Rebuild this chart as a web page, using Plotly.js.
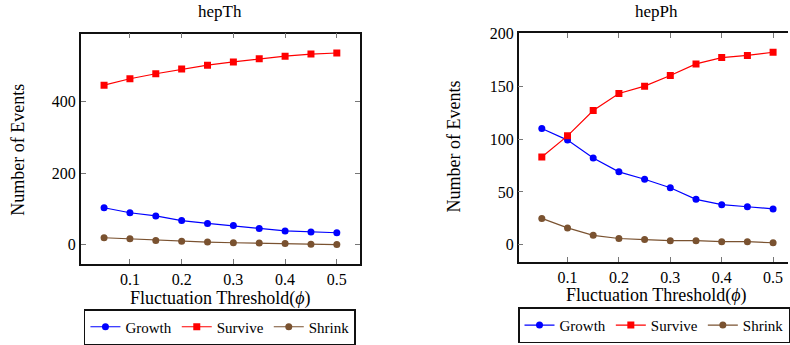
<!DOCTYPE html>
<html>
<head>
<meta charset="utf-8">
<script src="https://cdn.plot.ly/plotly-3.0.1.min.js"></script>
<style>
html,body{margin:0;padding:0;overflow:hidden;background:#fff;}
#chart{width:790px;height:345px;}
</style>
</head>
<body>
<div id="chart"></div>
<script>
const thresholds = [0.05, 0.1, 0.15, 0.2, 0.25, 0.3, 0.35, 0.4, 0.45, 0.5];

const hepThGrowth  = [103, 89, 80, 67, 59, 53, 45, 38, 35, 33];
const hepThSurvive = [446, 464, 478, 491, 502, 511, 520, 527, 533, 536];
const hepThShrink  = [19, 16, 11, 9, 7, 5, 4, 3, 1, 0];

const hepPhGrowth  = [110, 99, 82, 69, 62, 54, 43, 38, 36, 34];
const hepPhSurvive = [83, 103, 127, 143, 150, 160, 171, 177, 179, 182];
const hepPhShrink  = [25, 16, 9, 6, 5, 4, 4, 3, 3, 2];

const seriesNames = ['Growth', 'Survive', 'Shrink'];
const panelTitles = ['hepTh', 'hepPh'];
const xTickVals = [0.1, 0.2, 0.3, 0.4, 0.5];
const xTickText = ['0.1', '0.2', '0.3', '0.4', '0.5'];
const leftYTicks = [0, 200, 400];
const rightYTicks = [0, 50, 100, 150, 200];

const FONT = 'Liberation Serif';
const colors = ['#0000ff', '#ff0000', '#7a5230'];
const symbols = ['circle', 'square', 'circle'];

function mk(y, i, xa, ya, leg) {
  return {
    x: thresholds, y: y, type: 'scatter', mode: 'lines+markers',
    name: seriesNames[i], xaxis: xa, yaxis: ya, legend: leg, showlegend: true,
    line: {color: colors[i], width: 1.2},
    marker: {color: colors[i], symbol: symbols[i], size: 7}
  };
}

const data = [
  mk(hepThGrowth, 0, 'x', 'y', 'legend'),
  mk(hepThSurvive, 1, 'x', 'y', 'legend'),
  mk(hepThShrink, 2, 'x', 'y', 'legend'),
  mk(hepPhGrowth, 0, 'x2', 'y2', 'legend2'),
  mk(hepPhSurvive, 1, 'x2', 'y2', 'legend2'),
  mk(hepPhShrink, 2, 'x2', 'y2', 'legend2')
];

const W = 790, H = 345;
function axBase() {
  return {
    showgrid: false, zeroline: false, showline: true, linecolor: '#111', linewidth: 1.5,
    mirror: 'allticks', ticks: 'inside', ticklen: 5, tickcolor: '#777', tickwidth: 1.2,
    tickfont: {family: FONT, size: 16, color: '#000'}
  };
}

function ann(text, px, py, size, angle) {
  return {text: text, x: px / W, y: 1 - py / H, xref: 'paper', yref: 'paper',
          xanchor: 'center', yanchor: 'middle', showarrow: false, textangle: angle || 0,
          font: {family: FONT, size: size, color: '#000'}};
}

function legendBox(cx, top) {
  return {
    orientation: 'h', x: cx / W, y: 1 - top / H, xanchor: 'center', yanchor: 'top',
    bordercolor: '#111', borderwidth: 1.5, bgcolor: '#fff',
    font: {family: FONT, size: 15, color: '#000'},
    itemwidth: 30, tracegroupgap: 0
  };
}

const layout = {
  width: W, height: H,
  margin: {l: 0, r: 0, t: 0, b: 0},
  xaxis: Object.assign(axBase(), {
    domain: [81/W, 361/W], range: [0.005, 0.545],
    tickvals: xTickVals, ticktext: xTickText, anchor: 'y'
  }),
  yaxis: Object.assign(axBase(), {
    domain: [1 - 266/H, 1 - 34/H], range: [-53.6, 590],
    tickvals: leftYTicks, anchor: 'x'
  }),
  xaxis2: Object.assign(axBase(), {
    domain: [520/W, 1], range: [0.005, 0.529],
    tickvals: xTickVals, ticktext: xTickText, anchor: 'y2'
  }),
  yaxis2: Object.assign(axBase(), {
    domain: [1 - 264.3/H, 1 - 33.3/H], range: [-16.2, 200.2],
    tickvals: rightYTicks, anchor: 'x2', mirror: false
  }),
  legend: legendBox(220.5, 312),
  legend2: legendBox(656, 310),
  annotations: [
    ann(panelTitles[0], 221, 12, 17),
    ann(panelTitles[1], 658, 12, 17),
    ann('Number of Events', 18, 151, 18, -90),
    ann('Number of Events', 455, 148, 18, -90),
    ann('Fluctuation Threshold(<i>ϕ</i>)', 221, 301, 18),
    ann('Fluctuation Threshold(<i>ϕ</i>)', 658, 298, 18)
  ]
};

Plotly.newPlot('chart', data, layout, {displayModeBar: false});
</script>
</body>
</html>
